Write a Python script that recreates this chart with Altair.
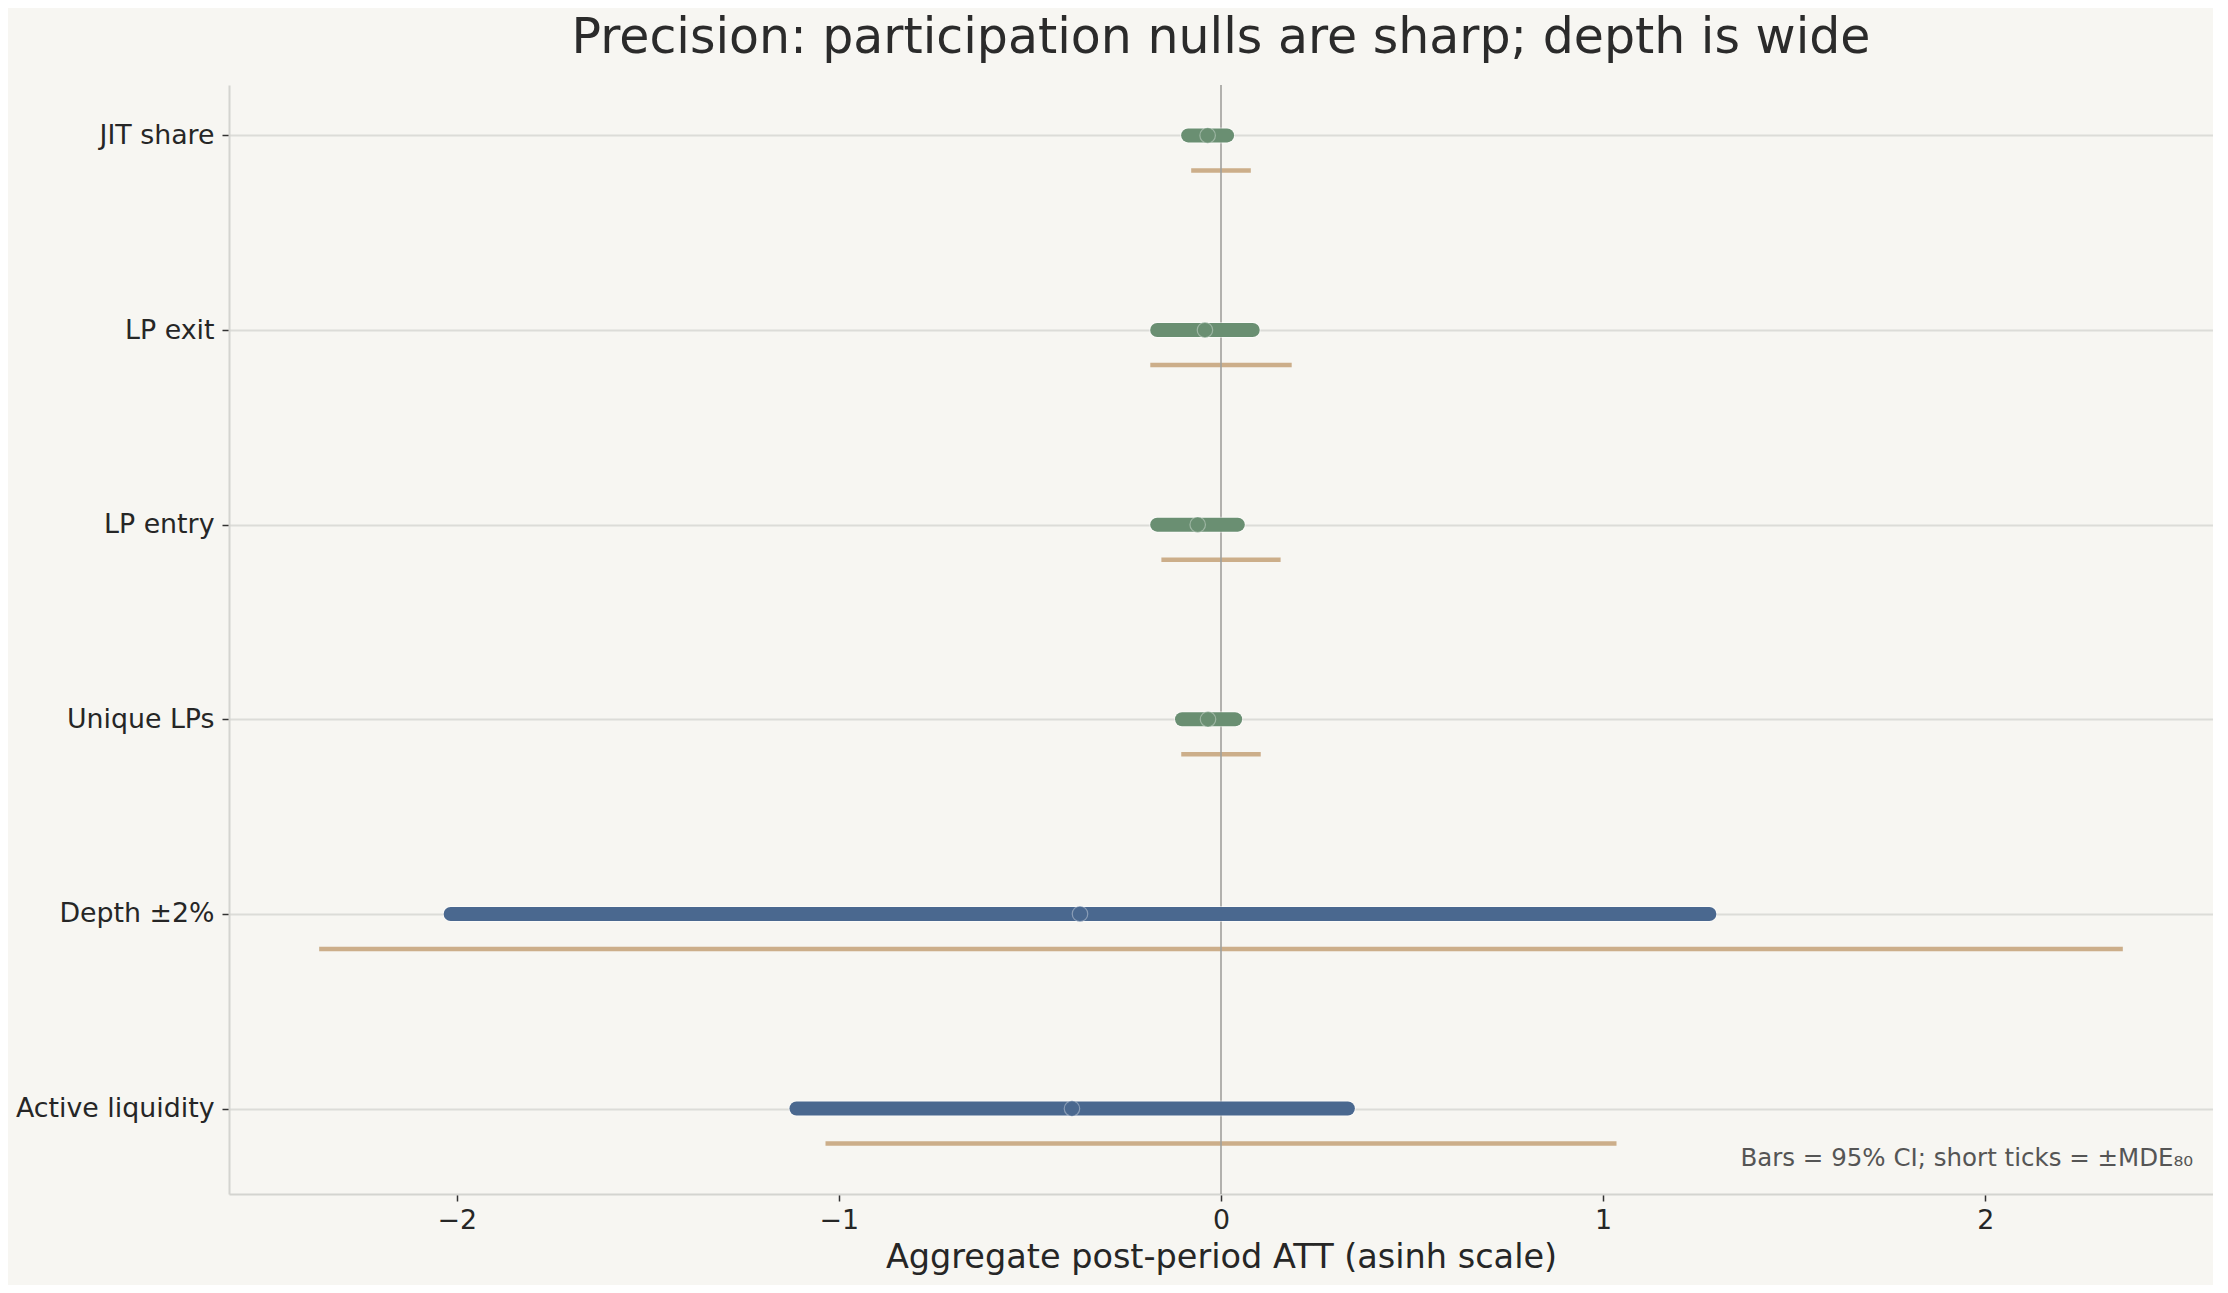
import altair as alt
import pandas as pd

outcomes = ["Active liquidity", "Depth ±2%", "Unique LPs", "LP entry", "LP exit", "JIT share"]
groups = ["depth", "depth", "participation", "participation", "participation", "participation"]
att = [-0.390, -0.369, -0.034, -0.061, -0.042, -0.035]
ci_low = [-1.111, -2.016, -0.102, -0.167, -0.167, -0.086]
ci_high = [0.332, 1.278, 0.037, 0.044, 0.083, 0.016]
mde80 = [1.035, 2.36, 0.104, 0.156, 0.185, 0.078]
x_ticks = [-2, -1, 0, 1, 2]
title_text = "Precision: participation nulls are sharp; depth is wide"
note_text = "Bars = 95% CI; short ticks = ±MDE₈₀"

MDE_OFFSET = 0.18
df = pd.DataFrame({
    "outcome": outcomes,
    "group": groups,
    "pos": list(range(len(outcomes))),
    "att": att,
    "lo": ci_low,
    "hi": ci_high,
    "mde": mde80,
})
df["mde_lo"] = -df["mde"]
df["mde_pos"] = df["pos"] - MDE_OFFSET

W, H = 1984, 1109
xscale = alt.Scale(domain=[-2.596, 2.596], nice=False, zero=False)
yscale = alt.Scale(domain=[-0.439, 5.259], nice=False, zero=False)
colors = alt.Scale(domain=["participation", "depth"], range=["#6a8f72", "#4a688f"])

label_expr = "[" + ",".join("'" + o + "'" for o in outcomes) + "][datum.value]"

base = alt.Chart(df)

xaxis = alt.Axis(values=x_ticks, labelExpr="replace(format(datum.value,'d'),'-','−')",
                 title="Aggregate post-period ATT (asinh scale)", grid=False,
                 tickSize=7, tickWidth=1.5, tickColor="#333333", labelFontSize=26.8,
                 labelColor="#262626", labelPadding=6, titleFontSize=33.5, titleFontWeight="normal",
                 titleColor="#262626", titlePadding=8, domainColor="#d4d4d0", domainWidth=2)
yaxis = alt.Axis(values=list(range(len(outcomes))), labelExpr=label_expr, title=None,
                 grid=True, gridColor="#dcdcd8", gridWidth=2, labelLimit=500,
                 tickSize=7, tickWidth=1.5, tickColor="#333333", labelFontSize=26.8,
                 labelColor="#262626", labelPadding=8, domainColor="#d4d4d0", domainWidth=2)

mde = base.mark_rule(color="#c9aa84", strokeWidth=4.5, strokeCap="butt", opacity=0.95).encode(
    x=alt.X("mde_lo:Q", scale=xscale, axis=xaxis),
    x2="mde:Q",
    y=alt.Y("mde_pos:Q", scale=yscale, axis=yaxis),
)

zero = alt.Chart(pd.DataFrame({"z": [0]})).mark_rule(color="#a0a09c", strokeWidth=1.6).encode(
    x=alt.X("z:Q", scale=xscale),
)

halo = base.mark_rule(color="#ffffff", strokeWidth=16, strokeCap="round", opacity=0.5).encode(
    x=alt.X("lo:Q", scale=xscale), x2="hi:Q", y=alt.Y("pos:Q", scale=yscale),
)
ci = base.mark_rule(strokeWidth=14, strokeCap="round").encode(
    x=alt.X("lo:Q", scale=xscale), x2="hi:Q", y=alt.Y("pos:Q", scale=yscale),
    color=alt.Color("group:N", scale=colors, legend=None),
)
pts = base.mark_circle(size=240, opacity=1, stroke="#ffffff", strokeWidth=1.2,
                       strokeOpacity=0.35).encode(
    x=alt.X("att:Q", scale=xscale), y=alt.Y("pos:Q", scale=yscale),
    color=alt.Color("group:N", scale=colors, legend=None),
)

note = alt.Chart(pd.DataFrame({"t": [note_text]})).mark_text(
    align="right", baseline="bottom", fontSize=24.5, color="#555555", font="DejaVu Sans"
).encode(x=alt.value(W * 0.99), y=alt.value(H - 23), text="t:N")

title = alt.Chart(pd.DataFrame({"t": [title_text]})).mark_text(
    align="center", baseline="alphabetic", fontSize=49, color="#2b2b2b", font="DejaVu Sans"
).encode(x=alt.value(W / 2), y=alt.value(-32), text="t:N")

chart = alt.layer(mde, zero, halo, ci, pts, note, title).properties(
    width=W, height=H,
    autosize=alt.AutoSizeParams(type="none"),
    padding={"left": 221, "top": 77, "right": 0, "bottom": 91},
).configure(
    background="#f7f6f2",
    font="DejaVu Sans",
).configure_view(stroke=None)

chart.save("out.html", embed_options={"renderer": "svg", "actions": False})
